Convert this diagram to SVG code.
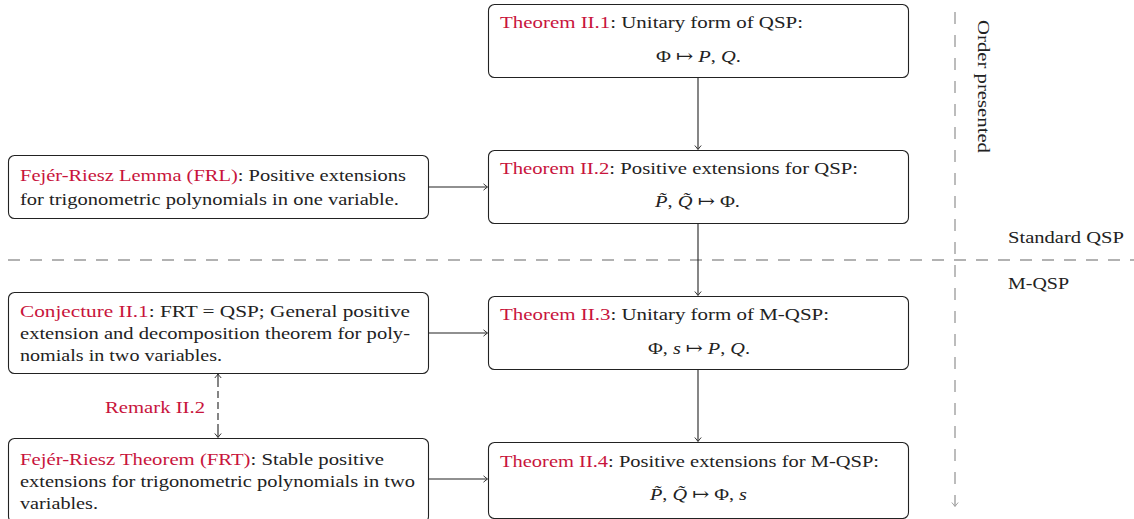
<svg xmlns="http://www.w3.org/2000/svg" width="1134" height="519" viewBox="0 0 1134 519">
<defs>
<style>
text{font-family:"Liberation Serif","DejaVu Serif",serif;font-size:17.5px;fill:#222}
.r{fill:#c8143c}
.box{fill:#fff;stroke:#222;stroke-width:1.1}
.c{stroke:#222;stroke-width:1.1;fill:none}
.g{stroke:#999;stroke-width:1.3;fill:none;stroke-dasharray:12 10}
.i{font-style:italic}
</style>
<marker id="a" viewBox="-5 -5 7 10" markerWidth="7" markerHeight="10" refX="0" refY="0" orient="auto" markerUnits="userSpaceOnUse">
<path d="M-3.5,-3.2 Q-0.5,-0.6 0.6,0 Q-0.5,0.6 -3.5,3.2" fill="none" stroke="#222" stroke-width="0.9"/>
</marker>
<marker id="ag" viewBox="-5 -5 7 10" markerWidth="7" markerHeight="10" refX="0" refY="0" orient="auto" markerUnits="userSpaceOnUse">
<path d="M-3.5,-3.2 Q-0.5,-0.6 0.6,0 Q-0.5,0.6 -3.5,3.2" fill="none" stroke="#999" stroke-width="0.9"/>
</marker>
</defs>

<g id="guides">
<line class="g" x1="8" y1="260" x2="1134" y2="260"/>
<line class="g" x1="955" y1="12" x2="955" y2="506" style="stroke-dasharray:12 11" marker-end="url(#ag)"/>
<text x="978" y="20" transform="rotate(90 978 20)" textLength="133" lengthAdjust="spacingAndGlyphs">Order presented</text>
<text x="1008" y="243" textLength="116" lengthAdjust="spacingAndGlyphs">Standard QSP</text>
<text x="1008" y="289" textLength="61" lengthAdjust="spacingAndGlyphs">M-QSP</text>
</g>

<g id="connectors">
<line class="c" x1="698" y1="77" x2="698" y2="149" marker-end="url(#a)"/>
<line class="c" x1="698" y1="223" x2="698" y2="295" marker-end="url(#a)"/>
<line class="c" x1="698" y1="369" x2="698" y2="441" marker-end="url(#a)"/>
<line class="c" x1="429" y1="187" x2="487" y2="187" marker-end="url(#a)"/>
<line class="c" x1="429" y1="333" x2="487" y2="333" marker-end="url(#a)"/>
<line class="c" x1="429" y1="479" x2="487" y2="479" marker-end="url(#a)"/>
<line class="c" x1="218" y1="380" x2="218" y2="432" stroke-dasharray="7 4"/>
<line class="c" x1="218" y1="380" x2="218" y2="374.5" marker-end="url(#a)"/>
<line class="c" x1="218" y1="431" x2="218" y2="437" marker-end="url(#a)"/>
<text class="r" x="105" y="413" textLength="100" lengthAdjust="spacingAndGlyphs">Remark II.2</text>
</g>

<g id="thm1">
<rect class="box" x="488.5" y="4.5" width="420" height="73" rx="6"/>
<text x="500" y="28" textLength="303" lengthAdjust="spacingAndGlyphs"><tspan class="r">Theorem II.1</tspan>:  Unitary form of QSP:</text>
<text x="656" y="62" textLength="85" lengthAdjust="spacingAndGlyphs">Φ ↦ <tspan class="i">P</tspan>, <tspan class="i">Q</tspan>.</text>
</g>

<g id="thm2">
<rect class="box" x="488.5" y="150.5" width="420" height="73" rx="6"/>
<text x="500" y="174" textLength="358" lengthAdjust="spacingAndGlyphs"><tspan class="r">Theorem II.2</tspan>:  Positive extensions for QSP:</text>
<text x="655" y="207" textLength="85" lengthAdjust="spacingAndGlyphs"><tspan class="i">P̃</tspan>, <tspan class="i">Q̃</tspan> ↦ Φ.</text>
</g>

<g id="thm3">
<rect class="box" x="488.5" y="296.5" width="420" height="73" rx="6"/>
<text x="500" y="320" textLength="329" lengthAdjust="spacingAndGlyphs"><tspan class="r">Theorem II.3</tspan>:  Unitary form of M-QSP:</text>
<text x="648" y="354" textLength="102" lengthAdjust="spacingAndGlyphs">Φ, <tspan class="i">s</tspan> ↦ <tspan class="i">P</tspan>, <tspan class="i">Q</tspan>.</text>
</g>

<g id="thm4">
<rect class="box" x="488.5" y="442.5" width="420" height="76" rx="6"/>
<text x="500" y="467" textLength="379" lengthAdjust="spacingAndGlyphs"><tspan class="r">Theorem II.4</tspan>:  Positive extensions for M-QSP:</text>
<text x="650" y="500" textLength="97" lengthAdjust="spacingAndGlyphs"><tspan class="i">P̃</tspan>, <tspan class="i">Q̃</tspan> ↦ Φ, <tspan class="i">s</tspan></text>
</g>

<g id="frl">
<rect class="box" x="8.5" y="155.5" width="420" height="63" rx="6"/>
<text x="20" y="181" textLength="386" lengthAdjust="spacingAndGlyphs"><tspan class="r">Fejér-Riesz Lemma (FRL)</tspan>: Positive extensions</text>
<text x="20" y="205" textLength="379" lengthAdjust="spacingAndGlyphs">for trigonometric polynomials in one variable.</text>
</g>

<g id="conj">
<rect class="box" x="8.5" y="292.5" width="420" height="81" rx="6"/>
<text x="20" y="317" textLength="390" lengthAdjust="spacingAndGlyphs"><tspan class="r">Conjecture II.1</tspan>:  FRT = QSP; General positive</text>
<text x="20" y="339" textLength="390" lengthAdjust="spacingAndGlyphs">extension and decomposition theorem for poly-</text>
<text x="20" y="361" textLength="202" lengthAdjust="spacingAndGlyphs">nomials in two variables.</text>
</g>

<g id="frt">
<rect class="box" x="8.5" y="438.5" width="420" height="84" rx="6"/>
<text x="20" y="465" textLength="364" lengthAdjust="spacingAndGlyphs"><tspan class="r">Fejér-Riesz Theorem (FRT)</tspan>: Stable positive</text>
<text x="20" y="487" textLength="395" lengthAdjust="spacingAndGlyphs">extensions for trigonometric polynomials in two</text>
<text x="20" y="509" textLength="78" lengthAdjust="spacingAndGlyphs">variables.</text>
</g>
</svg>
